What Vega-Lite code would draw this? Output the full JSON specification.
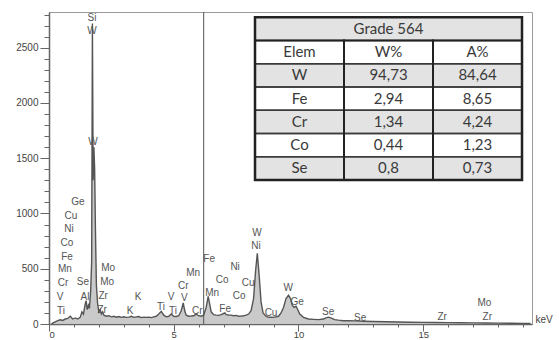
{
  "$schema": "https://vega.github.io/schema/vega-lite/v6.json",
  "width": 483,
  "height": 312,
  "autosize": "none",
  "padding": {"left": 49, "top": 12, "right": 27, "bottom": 16},
  "background": "white",
  "datasets": {
    "spec": [
      {"keV":0.10,"cps":0},{"keV":0.15,"cps":8},{"keV":0.25,"cps":20},{"keV":0.35,"cps":30},{"keV":0.45,"cps":38},{"keV":0.55,"cps":32},{"keV":0.65,"cps":45},{"keV":0.75,"cps":50},{"keV":0.85,"cps":70},{"keV":0.95,"cps":45},{"keV":1.05,"cps":55},{"keV":1.15,"cps":45},{"keV":1.25,"cps":60},{"keV":1.32,"cps":110},{"keV":1.38,"cps":90},{"keV":1.45,"cps":180},{"keV":1.49,"cps":210},{"keV":1.53,"cps":130},{"keV":1.58,"cps":170},{"keV":1.62,"cps":140},{"keV":1.67,"cps":300},{"keV":1.71,"cps":560},{"keV":1.74,"cps":2720},{"keV":1.77,"cps":1300},{"keV":1.80,"cps":1600},{"keV":1.83,"cps":1400},{"keV":1.86,"cps":870},{"keV":1.90,"cps":350},{"keV":1.95,"cps":180},{"keV":2.0,"cps":110},{"keV":2.05,"cps":130},{"keV":2.1,"cps":90},{"keV":2.15,"cps":110},{"keV":2.2,"cps":80},{"keV":2.3,"cps":70},{"keV":2.4,"cps":75},{"keV":2.5,"cps":65},{"keV":2.6,"cps":70},{"keV":2.7,"cps":62},{"keV":2.8,"cps":68},{"keV":2.9,"cps":60},{"keV":3.0,"cps":65},{"keV":3.1,"cps":60},{"keV":3.2,"cps":62},{"keV":3.3,"cps":70},{"keV":3.4,"cps":60},{"keV":3.5,"cps":65},{"keV":3.6,"cps":68},{"keV":3.7,"cps":58},{"keV":3.8,"cps":62},{"keV":3.9,"cps":60},{"keV":4.0,"cps":62},{"keV":4.1,"cps":58},{"keV":4.2,"cps":65},{"keV":4.3,"cps":70},{"keV":4.4,"cps":90},{"keV":4.5,"cps":115},{"keV":4.6,"cps":80},{"keV":4.7,"cps":65},{"keV":4.8,"cps":70},{"keV":4.9,"cps":90},{"keV":5.0,"cps":70},{"keV":5.1,"cps":68},{"keV":5.2,"cps":75},{"keV":5.3,"cps":120},{"keV":5.38,"cps":190},{"keV":5.45,"cps":110},{"keV":5.5,"cps":80},{"keV":5.6,"cps":70},{"keV":5.7,"cps":72},{"keV":5.8,"cps":75},{"keV":5.9,"cps":90},{"keV":6.0,"cps":75},{"keV":6.1,"cps":70},{"keV":6.2,"cps":80},{"keV":6.3,"cps":150},{"keV":6.38,"cps":250},{"keV":6.45,"cps":170},{"keV":6.5,"cps":110},{"keV":6.6,"cps":85},{"keV":6.7,"cps":80},{"keV":6.8,"cps":78},{"keV":6.9,"cps":85},{"keV":7.0,"cps":95},{"keV":7.05,"cps":100},{"keV":7.1,"cps":85},{"keV":7.2,"cps":82},{"keV":7.3,"cps":80},{"keV":7.4,"cps":75},{"keV":7.5,"cps":78},{"keV":7.6,"cps":70},{"keV":7.7,"cps":72},{"keV":7.8,"cps":75},{"keV":7.9,"cps":80},{"keV":8.0,"cps":90},{"keV":8.1,"cps":120},{"keV":8.2,"cps":230},{"keV":8.28,"cps":480},{"keV":8.35,"cps":640},{"keV":8.42,"cps":450},{"keV":8.5,"cps":200},{"keV":8.58,"cps":100},{"keV":8.7,"cps":70},{"keV":8.8,"cps":60},{"keV":8.9,"cps":62},{"keV":9.0,"cps":60},{"keV":9.1,"cps":65},{"keV":9.2,"cps":70},{"keV":9.3,"cps":100},{"keV":9.4,"cps":150},{"keV":9.5,"cps":230},{"keV":9.6,"cps":260},{"keV":9.68,"cps":230},{"keV":9.75,"cps":170},{"keV":9.82,"cps":150},{"keV":9.9,"cps":160},{"keV":9.95,"cps":140},{"keV":10.05,"cps":90},{"keV":10.2,"cps":60},{"keV":10.4,"cps":45},{"keV":10.6,"cps":42},{"keV":10.8,"cps":40},{"keV":11.0,"cps":45},{"keV":11.1,"cps":55},{"keV":11.2,"cps":62},{"keV":11.3,"cps":55},{"keV":11.45,"cps":40},{"keV":11.6,"cps":35},{"keV":11.8,"cps":30},{"keV":12.0,"cps":30},{"keV":12.3,"cps":28},{"keV":12.6,"cps":25},{"keV":13.0,"cps":22},{"keV":13.5,"cps":20},{"keV":14.0,"cps":18},{"keV":14.5,"cps":16},{"keV":15.0,"cps":15},{"keV":15.5,"cps":13},{"keV":16.0,"cps":12},{"keV":16.5,"cps":11},{"keV":17.0,"cps":10},{"keV":17.5,"cps":9},{"keV":18.0,"cps":8},{"keV":18.5,"cps":7},{"keV":19.0,"cps":6},{"keV":19.3,"cps":5}
    ],
    "labels": [
      {"el":"Ge","keV":1.16,"cps":1105},{"el":"Cu","keV":0.88,"cps":978},{"el":"Ni","keV":0.80,"cps":861},{"el":"Co","keV":0.72,"cps":734},{"el":"Fe","keV":0.72,"cps":607},{"el":"Mn","keV":0.64,"cps":498},{"el":"Cr","keV":0.56,"cps":371},{"el":"V","keV":0.44,"cps":245},{"el":"Ti","keV":0.48,"cps":118},
      {"el":"Si","keV":1.72,"cps":2772},{"el":"W","keV":1.72,"cps":2654},{"el":"W","keV":1.76,"cps":1649},
      {"el":"Mo","keV":2.37,"cps":507},{"el":"Mo","keV":2.33,"cps":380},{"el":"Se","keV":1.36,"cps":380},{"el":"Al","keV":1.44,"cps":245},{"el":"Zr","keV":2.17,"cps":254},{"el":"Zr","keV":2.13,"cps":127},
      {"el":"K","keV":3.57,"cps":245},{"el":"K","keV":3.25,"cps":118},{"el":"Ti","keV":4.49,"cps":154},{"el":"V","keV":4.89,"cps":245},{"el":"Ti","keV":4.97,"cps":118},{"el":"Cr","keV":5.38,"cps":344},{"el":"V","keV":5.42,"cps":236},{"el":"Cr","keV":5.94,"cps":118},
      {"el":"Mn","keV":5.78,"cps":462},{"el":"Fe","keV":6.42,"cps":589},{"el":"Mn","keV":6.54,"cps":281},{"el":"Fe","keV":7.06,"cps":136},{"el":"Ni","keV":7.46,"cps":516},{"el":"Co","keV":6.94,"cps":399},{"el":"Co","keV":7.62,"cps":254},{"el":"Cu","keV":7.98,"cps":371},
      {"el":"W","keV":8.34,"cps":824},{"el":"Ni","keV":8.30,"cps":707},{"el":"Cu","keV":8.90,"cps":100},{"el":"W","keV":9.59,"cps":326},{"el":"Ge","keV":9.95,"cps":199},{"el":"Se","keV":11.19,"cps":109},{"el":"Se","keV":12.47,"cps":54},{"el":"Zr","keV":15.76,"cps":63},{"el":"Mo","keV":17.45,"cps":190},{"el":"Zr","keV":17.57,"cps":63}
    ],
    "table": [
      {"row":"Grade 564","col":"Elem","val":""},{"row":"Grade 564","col":"W%","val":"Grade 564"},{"row":"Grade 564","col":"A%","val":""},
      {"row":"Elem","col":"Elem","val":"Elem"},{"row":"Elem","col":"W%","val":"W%"},{"row":"Elem","col":"A%","val":"A%"},
      {"row":"W","col":"Elem","val":"W"},{"row":"W","col":"W%","val":"94,73"},{"row":"W","col":"A%","val":"84,64"},
      {"row":"Fe","col":"Elem","val":"Fe"},{"row":"Fe","col":"W%","val":"2,94"},{"row":"Fe","col":"A%","val":"8,65"},
      {"row":"Cr","col":"Elem","val":"Cr"},{"row":"Cr","col":"W%","val":"1,34"},{"row":"Cr","col":"A%","val":"4,24"},
      {"row":"Co","col":"Elem","val":"Co"},{"row":"Co","col":"W%","val":"0,44"},{"row":"Co","col":"A%","val":"1,23"},
      {"row":"Se","col":"Elem","val":"Se"},{"row":"Se","col":"W%","val":"0,8"},{"row":"Se","col":"A%","val":"0,73"}
    ]
  },
  "layer": [
    {
      "data": {"name": "spec"},
      "encoding": {
        "x": {"field": "keV", "type": "quantitative", "scale": {"domain": [0, 19.36], "nice": false, "zero": false},
          "axis": {"values": [0,1,2,3,4,5,6,7,8,9,10,11,12,13,14,15,16,17,18,19], "labelExpr": "datum.value % 5 === 0 ? datum.label : ''", "labelOverlap": false, "grid": false,
            "tickSize": {"condition": {"test": "datum.value % 5 === 0", "value": 7}, "value": 3},
            "tickColor": "#666", "domainColor": "#666", "domainWidth": 1.5, "labelColor": "#444", "labelFontSize": 9.5, "labelPadding": -2, "labelFont": "Liberation Sans",
            "title": "keV", "titleX": 486, "titleY": -5, "titleAlign": "left", "titleBaseline": "middle", "titleAngle": 0, "titleFontWeight": "normal", "titleFontSize": 10, "titleColor": "#444", "titleFont": "Liberation Sans"}},
        "y": {"field": "cps", "type": "quantitative", "scale": {"domain": [0, 2823], "nice": false},
          "axis": {"values": [0,100,200,300,400,500,600,700,800,900,1000,1100,1200,1300,1400,1500,1600,1700,1800,1900,2000,2100,2200,2300,2400,2500,2600,2700,2800], "format": "d", "labelExpr": "datum.value % 500 === 0 ? datum.label : ''", "labelOverlap": false, "grid": false,
            "tickSize": {"condition": {"test": "datum.value % 500 === 0", "value": 9}, "value": 5},
            "tickColor": "#666", "domainColor": "#666", "domainWidth": 1.5, "labelColor": "#444", "labelFontSize": 10, "labelPadding": 2, "labelFont": "Liberation Sans", "title": null}}
      },
      "layer": [
        {"mark": {"type": "area", "color": "#c4c4c4", "opacity": 0.9}},
        {"mark": {"type": "line", "color": "#555555", "strokeWidth": 1.4}},
        {"data": {"values": [{"keV": 6.2}]}, "mark": {"type": "rule", "color": "#555", "strokeWidth": 1}, "encoding": {"x": {"field": "keV", "type": "quantitative"}, "y": null}},
        {"data": {"name": "labels"}, "mark": {"type": "text", "font": "Liberation Sans", "fontSize": 10, "color": "#555", "align": "center", "baseline": "middle"},
          "encoding": {"text": {"field": "el", "type": "nominal"}}}
      ]
    },
    {
      "data": {"name": "table"},
      "encoding": {
        "x": {"field": "col", "type": "nominal", "scale": {"type": "band", "domain": ["_a", "_b", "Elem", "W%", "A%"], "paddingInner": 0, "paddingOuter": 0.2135, "align": 0.737}, "axis": null},
        "y": {"field": "row", "type": "nominal", "scale": {"type": "band", "domain": ["Grade 564", "Elem", "W", "Fe", "Cr", "Co", "Se", "_1", "_2", "_3", "_4", "_5", "_6"], "paddingInner": 0, "paddingOuter": 0.21, "align": 0.54}, "axis": null}
      },
      "layer": [
        {"mark": {"type": "rect", "color": "#ffffff"}},
        {"transform": [{"filter": {"field": "row", "oneOf": ["Grade 564", "W", "Cr", "Se"]}}], "mark": {"type": "rect", "color": "#e3e3e3"}},
        {"transform": [{"filter": "datum.row !== 'Grade 564'"}], "mark": {"type": "rect", "filled": false, "stroke": "#3a3a3a", "strokeWidth": 1.3}},
        {"transform": [{"filter": "datum.row === 'Elem'"}], "mark": {"type": "rect", "filled": false, "stroke": "#222", "strokeWidth": 2},
          "encoding": {"y": {"datum": "Elem", "type": "nominal", "bandPosition": 0}, "y2": {"datum": "Se", "bandPosition": 1}}},
        {"data": {"values": [{}]}, "mark": {"type": "rect", "filled": false, "stroke": "#222", "strokeWidth": 2.5},
          "encoding": {"x": {"datum": "Elem", "type": "nominal", "bandPosition": 0}, "x2": {"datum": "A%", "bandPosition": 1}, "y": {"datum": "Grade 564", "type": "nominal", "bandPosition": 0}, "y2": {"datum": "Se", "bandPosition": 1}}},
        {"mark": {"type": "text", "font": "Lato", "fontSize": 15, "color": "#3a3a3a", "align": "center", "baseline": "middle"},
          "encoding": {"text": {"field": "val", "type": "nominal"}}}
      ]
    }
  ],
  "resolve": {"scale": {"x": "independent", "y": "independent"}},
  "config": {"view": {"stroke": "#9a9a9a", "strokeWidth": 1}, "font": "Liberation Sans"}
}
